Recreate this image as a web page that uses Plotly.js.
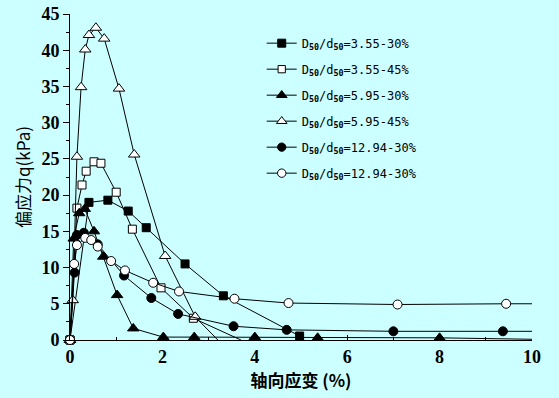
<!DOCTYPE html>
<html>
<head>
<meta charset="utf-8">
<script src="https://cdn.plot.ly/plotly-3.0.1.min.js"></script>
<style>html,body{margin:0;padding:0;background:#ccffff;}#chart{width:559px;height:398px;}</style>
</head>
<body>
<div id="chart"></div>
<script>
// Series names
const names = [
  "D<sub><b>50</b></sub>/d<sub><b>50</b></sub>=3.55-30%",
  "D<sub><b>50</b></sub>/d<sub><b>50</b></sub>=3.55-45%",
  "D<sub><b>50</b></sub>/d<sub><b>50</b></sub>=5.95-30%",
  "D<sub><b>50</b></sub>/d<sub><b>50</b></sub>=5.95-45%",
  "D<sub><b>50</b></sub>/d<sub><b>50</b></sub>=12.94-30%",
  "D<sub><b>50</b></sub>/d<sub><b>50</b></sub>=12.94-30%"
];
// axial strain (%) and deviator stress q (kPa)
const x1 = [0, 0.41, 0.82, 1.26, 1.65, 2.49, 3.32, 4.97];
const y1 = [0, 19.0, 19.3, 17.8, 15.5, 10.5, 6.1, 0.55];
const x2 = [0, 0.15, 0.26, 0.35, 0.52, 0.67, 1.0, 1.35, 1.97, 2.67, 3.7];
const y2 = [0, 18.2, 21.4, 23.3, 24.6, 24.4, 20.4, 15.3, 7.2, 3.0, 0];
const x3 = [0, 0.08, 0.2, 0.32, 0.52, 0.72, 1.02, 1.37, 2.02, 2.69, 4.0, 5.36, 8.0, 10];
const y3 = [0, 14.0, 17.5, 18.1, 15.0, 11.5, 6.2, 1.6, 0.4, 0.4, 0.4, 0.3, 0.3, 0.1];
const x4 = [0, 0.06, 0.15, 0.24, 0.33, 0.41, 0.56, 0.74, 1.06, 1.39, 2.06, 2.71, 3.2];
const y4 = [0, 5.5, 25.3, 34.9, 40.1, 42.1, 43.1, 41.6, 34.7, 25.6, 11.6, 3.2, 0];
const x5 = [0, 0.1, 0.15, 0.3, 0.6, 1.17, 1.76, 2.34, 3.54, 4.69, 7.0, 9.37, 10];
const y5 = [0, 9.3, 14.5, 14.8, 13.2, 8.9, 5.8, 3.6, 1.9, 1.4, 1.2, 1.2, 1.2];
const x6 = [0, 0.09, 0.15, 0.33, 0.46, 0.6, 0.89, 1.19, 1.8, 2.36, 3.56, 4.73, 7.09, 9.44, 10];
const y6 = [0, 10.5, 13.1, 14.1, 13.8, 12.9, 10.9, 9.6, 7.9, 6.7, 5.7, 5.1, 4.9, 5.0, 5.0];

const xs = [x1, x2, x3, x4, x5, x6];
const ys = [y1, y2, y3, y4, y5, y6];
const symbols = ['square', 'square', 'triangle-up', 'triangle-up', 'circle', 'circle'];
const fills = ['black', 'white', 'black', 'white', 'black', 'white'];
const baseSize = [8, 8, 10, 10, 9, 9];
// points at the ends that sit on the frame carry no marker
const hidden = [[], [10], [13], [12], [12], [14]];

const traces = xs.map((x, i) => ({
  x: x, y: ys[i], name: names[i], type: 'scatter', mode: 'lines+markers',
  cliponaxis: false, legendgroup: 'g' + i,
  line: {color: 'black', width: 1},
  marker: {
    symbol: symbols[i], color: fills[i], opacity: 1,
    size: x.map((_, k) => hidden[i].includes(k) ? 0 : baseSize[i]),
    line: {color: 'black', width: 1}
  }
}));

const layout = {
  width: 559, height: 398,
  paper_bgcolor: '#ccffff', plot_bgcolor: '#ccffff',
  margin: {l: 70, r: 27, t: 14, b: 58},
  showlegend: true,
  legend: {
    x: 0.415, y: 0.955, xanchor: 'left', yanchor: 'top',
    bgcolor: 'rgba(0,0,0,0)',
    font: {family: 'DejaVu Sans Mono', size: 12, color: 'black'},
    tracegroupgap: 7,
    itemwidth: 30
  },
  xaxis: {
    range: [0, 10], dtick: 2, tick0: 0,
    showgrid: false, zeroline: false,
    showline: true, linecolor: 'black', linewidth: 1,
    ticks: 'inside', ticklen: 5, tickcolor: 'black',
    minor: {dtick: 1, ticks: 'inside', ticklen: 3, tickcolor: 'black', showgrid: false},
    tickfont: {family: 'Liberation Serif', size: 18, color: 'black', weight: 'bold'},
    title: {text: '轴向应变 (%)', font: {family: 'Noto Sans CJK SC', size: 17, color: 'black', weight: 'bold'}, standoff: 9}
  },
  yaxis: {
    range: [0, 45], dtick: 5, tick0: 0,
    showgrid: false, zeroline: false,
    showline: true, linecolor: 'black', linewidth: 1,
    ticks: 'outside', ticklen: 6, tickcolor: 'black',
    minor: {dtick: 2.5, ticks: 'outside', ticklen: 3, tickcolor: 'black', showgrid: false},
    tickfont: {family: 'Liberation Serif', size: 18, color: 'black', weight: 'bold'},
    title: {text: '偏应力q(kPa)', font: {family: 'Noto Sans CJK SC', size: 17, color: 'black'}, standoff: 6}
  }
};

Plotly.newPlot('chart', traces, layout, {displayModeBar: false, staticPlot: true});
</script>
</body>
</html>
